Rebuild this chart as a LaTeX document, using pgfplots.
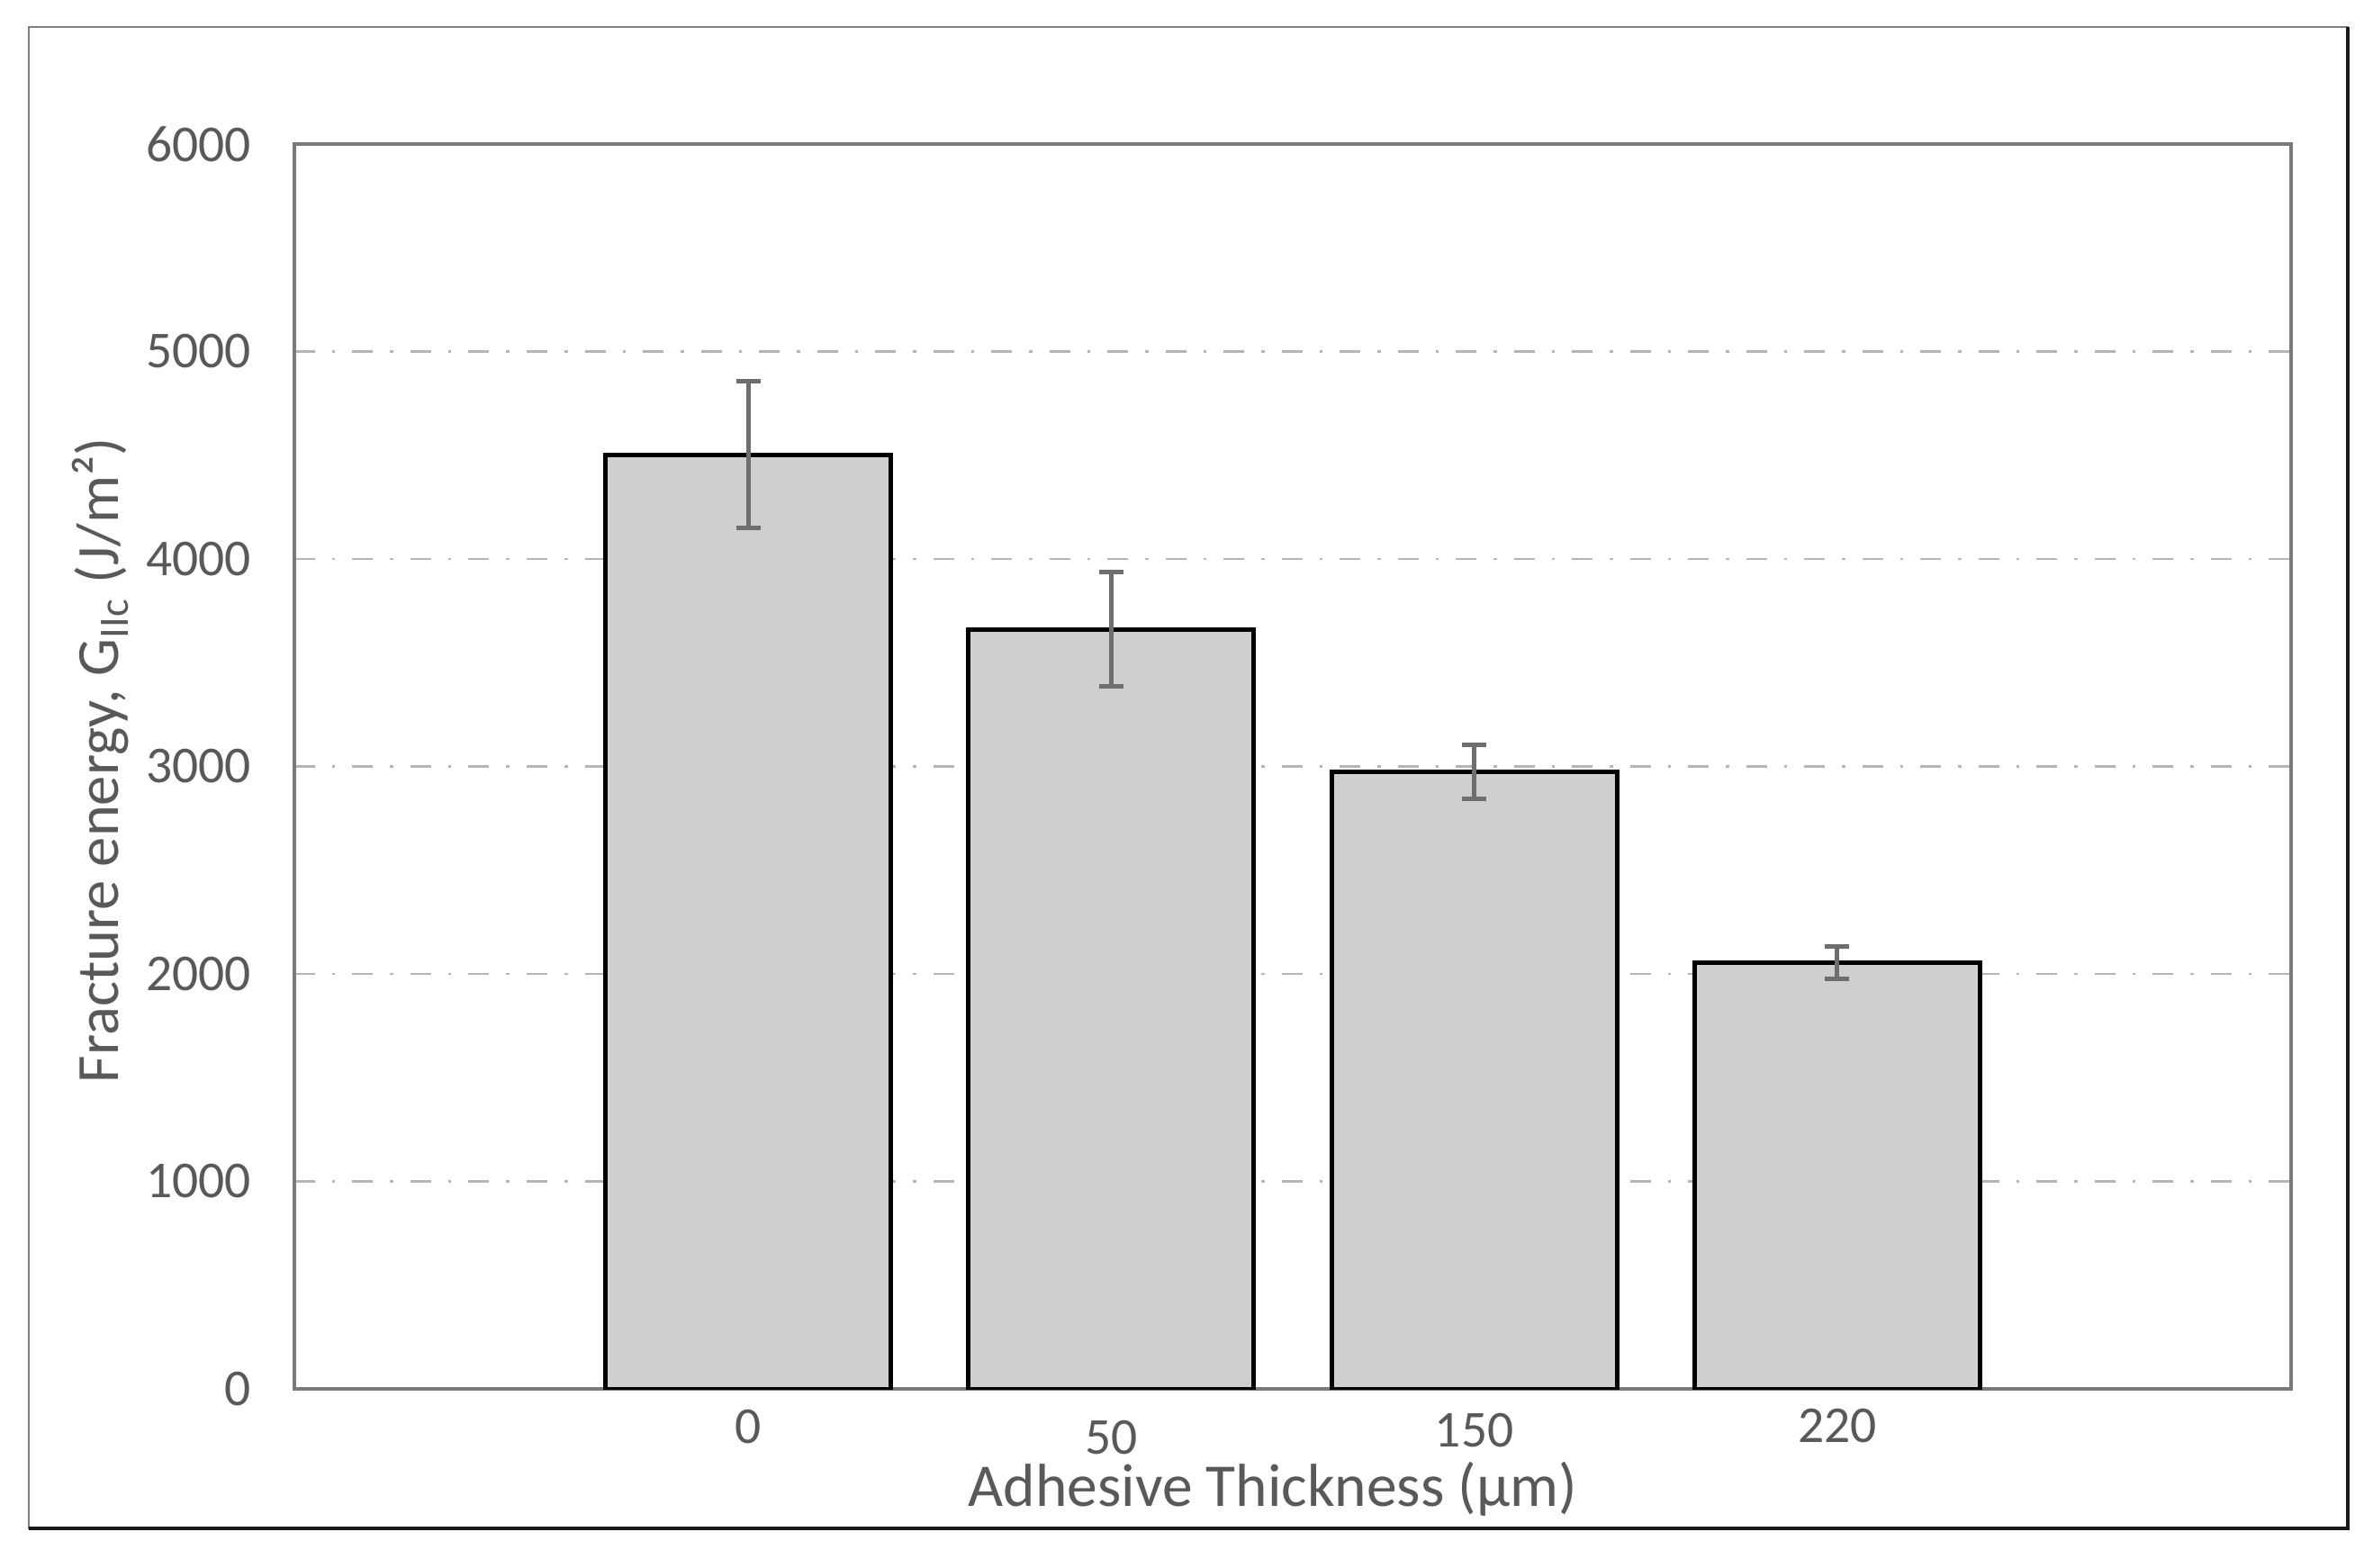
\documentclass[border=0pt]{standalone}
\usepackage{fontspec}
\setmainfont{Carlito}
\usepackage{pgfplots}
\pgfplotsset{compat=1.18}
\definecolor{txt}{HTML}{595959}
\definecolor{barfill}{HTML}{D0CFCD}
\definecolor{axc}{HTML}{7A7A7A}
\definecolor{gridc}{HTML}{B5B5B5}
\definecolor{errc}{HTML}{6E6E6E}
\begin{document}
\begin{tikzpicture}
\path[use as bounding box] (-65.4pt,-39.6pt) rectangle (461.8pt,308.6pt);
\draw[line width=0.3pt, gray] (-59pt,-31pt) rectangle (456.2pt,302.6pt);
\draw[line width=0.8pt, black!90] (-59pt,-31pt) -- (456.2pt,-31pt) -- (456.2pt,302.6pt);
\begin{axis}[
  at={(0pt,0pt)}, anchor=south west,
  scale only axis, width=443.6pt, height=276.6pt,
  xmin=-1.25, xmax=4.25, ymin=0, ymax=6000,
  ybar, bar width=63.4pt,
  xtick={0,1,2,3},
  xticklabels={0,\raisebox{-2.4pt}{50},\raisebox{-0.8pt}{150},\raisebox{0.2pt}{220}},
  ytick={0,1000,2000,3000,4000,5000,6000},
  major tick length=0pt,
  ymajorgrids,
  grid style={gridc, line width=0.5pt, dash pattern=on 4.6pt off 3.8pt on 0.7pt off 3.8pt},
  axis line style={axc, line width=0.8pt},
  tick label style={font=\fontsize{11.5}{13}\selectfont, text=txt},
  /pgf/number format/assume math mode=true,
  /pgf/number format/1000 sep={},
  yticklabel style={anchor=east, inner sep=0pt, xshift=-9.4pt},
  xticklabel style={anchor=base, inner sep=0pt, yshift=-12pt},
  xlabel={Adhesive Thickness (µm)},
  ylabel={Fracture energy, G\textsubscript{IIc} (J/m²)},
  every axis x label/.style={at={([yshift=-26pt]axis description cs:0.49,0)}, anchor=base, inner sep=0pt, font=\fontsize{13.5}{15}\selectfont, text=txt},
  every axis y label/.style={at={([xshift=-39pt]axis description cs:0,0.505)}, rotate=90, anchor=base, inner sep=0pt, font=\fontsize{13.3}{15}\selectfont, text=txt},
]
\addplot[fill=barfill, draw=black, line width=1pt,
  error bars/.cd, y dir=both, y explicit,
  error bar style={errc, line width=1pt},
  error mark options={rotate=90, errc, mark size=2.7pt, line width=1pt}]
  coordinates {(0,4503) +- (0,355) (1,3660) +- (0,276) (2,2974) +- (0,130) (3,2054) +- (0,77)};
\end{axis}
\end{tikzpicture}
\end{document}
